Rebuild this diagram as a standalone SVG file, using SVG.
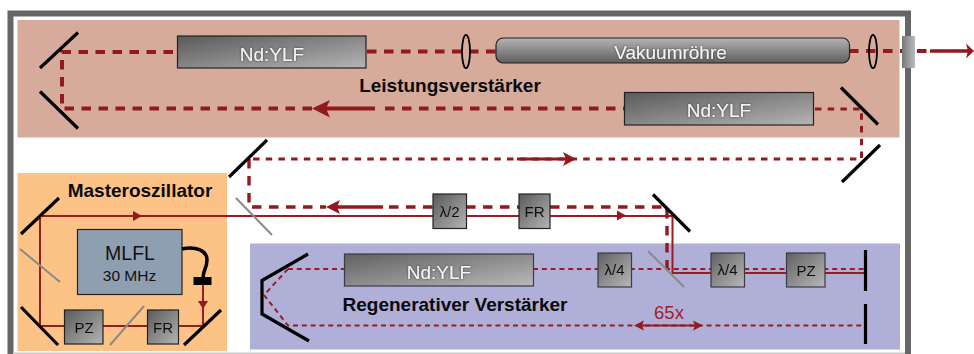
<svg xmlns="http://www.w3.org/2000/svg" width="974" height="354" viewBox="0 0 974 354">
<style>
text{font-family:"Liberation Sans",Arial,sans-serif;text-anchor:middle}
.t{font-weight:bold;fill:#0a0a0a;font-size:19px}
.w{fill:#f4f4f4;font-size:19px;filter:url(#glow)}
.k{fill:#111;font-size:15px;filter:url(#soft)}
.m{fill:none;stroke:#000;stroke-width:3.2}
.g{fill:none;stroke:#8a8a8a;stroke-width:2}
.s{fill:none;stroke:#9a1c22;stroke-width:2}
.a{fill:none;stroke:#94181e}
.d1{fill:none;stroke:#94181e;stroke-width:4;stroke-dasharray:9.500 7.500}
.d2{fill:none;stroke:#94181e;stroke-width:3;stroke-dasharray:6.500 6.200}
.d4{fill:none;stroke:#94181e;stroke-width:3.400;stroke-dasharray:9.500 7.500}
.d3{fill:none;stroke:#9a1c22;stroke-width:2;stroke-dasharray:5 3.800}
.b{stroke:#222;stroke-width:1.200;fill:url(#diag)}
.c{stroke:#3a3a48;stroke-width:1.200;fill:url(#diag2)}
.ah{fill:#94181e}
.l{fill:none;stroke:#000;stroke-width:1.800}
</style>
<defs>
<linearGradient id="diag" x1="0" y1="0" x2="1" y2="1"><stop offset="0" stop-color="#5a5a5a"/><stop offset="1" stop-color="#b4b4b4"/></linearGradient>
<linearGradient id="diag2" x1="0" y1="0" x2="1" y2="1"><stop offset="0" stop-color="#616161"/><stop offset="1" stop-color="#b8b8b8"/></linearGradient>
<linearGradient id="vert" x1="0" y1="0" x2="0" y2="1"><stop offset="0" stop-color="#b4b4b4"/><stop offset="1" stop-color="#5e5e5e"/></linearGradient>
<linearGradient id="horz" x1="0" y1="0" x2="1" y2="0"><stop offset="0" stop-color="#777"/><stop offset="1" stop-color="#bbb"/></linearGradient>
<filter id="glow" x="-20%" y="-30%" width="140%" height="160%"><feGaussianBlur in="SourceAlpha" stdDeviation="1" result="b"/><feFlood flood-color="#2a2a2a" flood-opacity="0.8"/><feComposite in2="b" operator="in" result="sh"/><feMerge><feMergeNode in="sh"/><feMergeNode in="SourceGraphic"/></feMerge></filter>
<filter id="soft" x="-20%" y="-30%" width="140%" height="160%"><feGaussianBlur stdDeviation="0.25"/></filter>
</defs>

<g id="frame"><rect x="10.500" y="13.500" width="897.500" height="345" fill="#fff" stroke="#666" stroke-width="6"/><rect x="13" y="352.500" width="892" height="1.500" fill="#c8c8c8"/></g>
<g id="zone-leistung"><rect x="17.500" y="20" width="882" height="117.500" fill="#d7ab9b"/></g>
<g id="zone-master"><rect x="17.500" y="173" width="209.500" height="178" fill="#fdc286"/></g>
<g id="zone-regen"><rect x="250" y="243.500" width="650" height="106" fill="#b0afd8"/></g>

<g id="connectors">
<path class="d1" d="M173 52H62V108.500H312"/>
<path class="d1" d="M367 51.500H496"/>
<path class="d1" d="M849 51H930"/>
<path class="a" style="stroke-width:3.600" d="M930 51H968"/>
<path class="ah" d="M974 51L966 43.500L968 51L966 58.500Z"/>
<path class="a" style="stroke-width:4" d="M325 108.500H375"/>
<path class="ah" d="M312 108.500L330 100L326 108.500L330 117.500Z"/>
<path class="d1" d="M385 108.500H624"/>
<path class="d2" d="M815 109H861.500V159H249"/>
<path class="d4" d="M249 159V207H326"/>
<path class="a" style="stroke-width:2.800" d="M517 159H566"/>
<path class="ah" d="M576 159L563 152L566 159L563 166Z"/>
<path class="a" style="stroke-width:3.400" d="M335 207H383"/>
<path class="ah" d="M326 207L340 200L337 207L340 214Z"/>
<path class="d4" d="M389 207H433M466 207H519M550 207H667V270"/>
<path class="s" d="M40 216H672.500V273H864"/>
<path class="ah" d="M142 216L133 211V221Z"/>
<path class="ah" d="M626 215.500L617 210.500V220.500Z"/>
<path class="s" d="M40 216V326H203V281"/>
<path class="ah" d="M203 309L198 301H208Z"/>
<path class="d3" d="M288 269L264 295L288 325.500H864"/>
<path class="d3" d="M288 269H345M533 269H864"/>
<path class="s" d="M640 325.500H697"/>
<path class="ah" d="M634 325.500L644 320.500L642 325.500L644 330.500Z"/>
<path class="ah" d="M703 325.500L693 320.500L695 325.500L693 330.500Z"/>
</g>

<g id="mirrors">
<path class="m" d="M40 68L78 32.500"/>
<path class="m" d="M40 91.500L78 128.500"/>
<path class="m" d="M841 87.500L878 124.500"/>
<path class="m" d="M842 182L880 145"/>
<path class="m" d="M229 177L267 140"/>
<path class="m" d="M653 194.500L690 231.500"/>
<path class="m" d="M21 234L59 198"/>
<path class="m" d="M21 307L58 345"/>
<path class="m" d="M184 345L221 310"/>
<path class="m" d="M308 254L262 280.500V314L309 341"/>
<path class="m" d="M865.500 250V291"/>
<path class="m" d="M865.500 304V344"/>
<path class="g" d="M236 198L272 235"/>
<path class="g" d="M648 251L684 287"/>
<path class="g" d="M20 249L60 282"/>
<path class="g" d="M110 345L144 306"/>
</g>

<g id="lens-1"><ellipse cx="466" cy="51.500" rx="4" ry="16.500" class="l"/></g>
<g id="lens-2"><ellipse cx="873" cy="51.500" rx="4" ry="16.500" class="l"/></g>
<g id="window"><rect x="902" y="36" width="13" height="32" fill="url(#horz)"/></g>

<g id="nd-yLF-1"><rect x="177.500" y="36" width="188.500" height="32" class="b"/><text class="w" x="272" y="60.500">Nd:YLF</text></g>
<g id="vakuum"><rect x="496" y="38" width="353.500" height="25" rx="7" fill="url(#vert)" stroke="#222" stroke-width="1.200"/><text class="w" x="670.500" y="58.500">Vakuumröhre</text></g>
<g id="nd-yLF-2"><rect x="624.500" y="92.500" width="189" height="32.500" class="b"/><text class="w" x="719" y="116.500">Nd:YLF</text></g>
<g id="nd-yLF-3"><rect x="344.500" y="254" width="189" height="32" class="c"/><text class="w" x="439" y="278.500">Nd:YLF</text></g>

<g id="l2"><rect x="433" y="194" width="33.500" height="34.500" class="b"/><text class="k" x="449.500" y="217">λ/2</text></g>
<g id="fr-1"><rect x="519" y="194" width="31" height="34.500" class="b"/><text class="k" x="534.500" y="217">FR</text></g>
<g id="l4-1"><rect x="598" y="253" width="33.500" height="34" class="c"/><text class="k" x="614.500" y="275">λ/4</text></g>
<g id="l4-2"><rect x="711" y="253" width="33.500" height="34" class="c"/><text class="k" x="727.500" y="275">λ/4</text></g>
<g id="pz-2"><rect x="786.500" y="253" width="38.500" height="34" class="c"/><text class="k" x="806" y="275.500">PZ</text></g>
<g id="pz-1"><rect x="64.500" y="310" width="38.500" height="34" class="b"/><text class="k" x="84" y="332.500">PZ</text></g>
<g id="fr-2"><rect x="147.500" y="310" width="31" height="34" class="b"/><text class="k" x="163" y="332.500">FR</text></g>

<g id="mlfl">
<rect x="77.500" y="229.500" width="104.500" height="65" fill="#8f9fb2" stroke="#222" stroke-width="1.200"/>
<text x="130" y="260" style="font-size:19.500px;fill:#111">MLFL</text>
<text x="129.500" y="281" style="font-size:15.500px;fill:#111">30 MHz</text>
<path d="M182 249C195 246 207 250 207 260C207 268 203 270 203 278" fill="none" stroke="#000" stroke-width="3.500"/>
<rect x="193.500" y="277" width="18" height="8" fill="#000"/>
</g>

<g id="labels">
<text class="t" x="450" y="92">Leistungsverstärker</text>
<text class="t" x="140" y="197">Masteroszillator</text>
<text class="t" x="455" y="310.500">Regenerativer Verstärker</text>
<text x="669" y="318.500" style="font-size:18.500px;fill:#a3222a">65x</text>
</g>
</svg>
